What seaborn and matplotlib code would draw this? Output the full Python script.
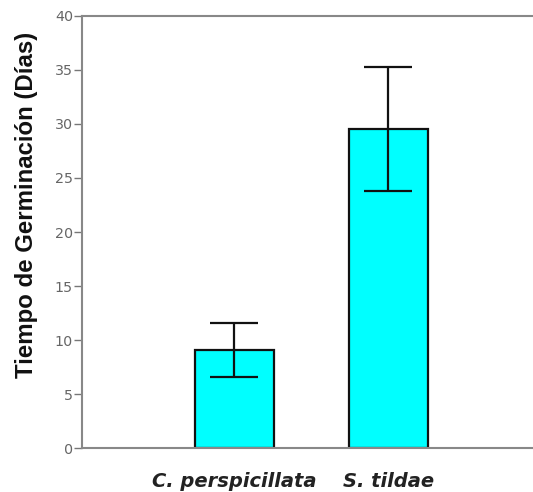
import matplotlib
matplotlib.use("Agg")
import matplotlib.pyplot as plt
import seaborn as sns
import pandas as pd

species = ["C. perspicillata", "S. tildae"]
means = [9.05, 29.55]
errors = [2.5, 5.75]
yticks = [0, 5, 10, 15, 20, 25, 30, 35, 40]

sns.set_style("white")
plt.rcParams["font.family"] = ["Liberation Sans", "DejaVu Sans"]

df = pd.DataFrame({"species": species, "mean": means, "err": errors})

fig = plt.figure(figsize=(5.33, 4.92), dpi=100)
ax = fig.add_axes([0.1538, 0.0894, 0.8462, 0.8781])

sns.barplot(data=df, x="species", y="mean", ax=ax, color="#00FFFF",
            saturation=1, width=0.51, edgecolor="#111111", linewidth=1.6,
            errorbar=None)
ax.errorbar(x=range(len(species)), y=df["mean"], yerr=df["err"], fmt="none",
            ecolor="#111111", elinewidth=1.6, capsize=17, capthick=1.6)

ax.set_xlim(-0.99, 1.94)
ax.set_ylim(0, 40)
ax.set_yticks(yticks)
ax.set_yticklabels([str(t) for t in yticks], fontsize=10.3, color="#666666",
                   family="DejaVu Sans")
ax.tick_params(axis="y", left=True, length=6, width=1, color="#777777", pad=0.5)
ax.tick_params(axis="x", bottom=False, pad=14)
for lab in ax.get_xticklabels():
    lab.set_family("DejaVu Sans")
    lab.set_fontstyle("italic")
    lab.set_fontweight("bold")
    lab.set_fontsize(14)
    lab.set_color("#222222")

ax.set_xlabel("")
ax.set_ylabel("Tiempo de Germinación (Días)", fontsize=17.3, fontweight="bold",
              color="#111111")
ax.yaxis.set_label_coords(-0.098, 0.5625)

for side in ["left", "top", "bottom"]:
    ax.spines[side].set_visible(True)
    ax.spines[side].set_color("#888888")
    ax.spines[side].set_linewidth(1.5)
ax.spines["right"].set_visible(False)

fig.savefig("out.png", dpi=100)
